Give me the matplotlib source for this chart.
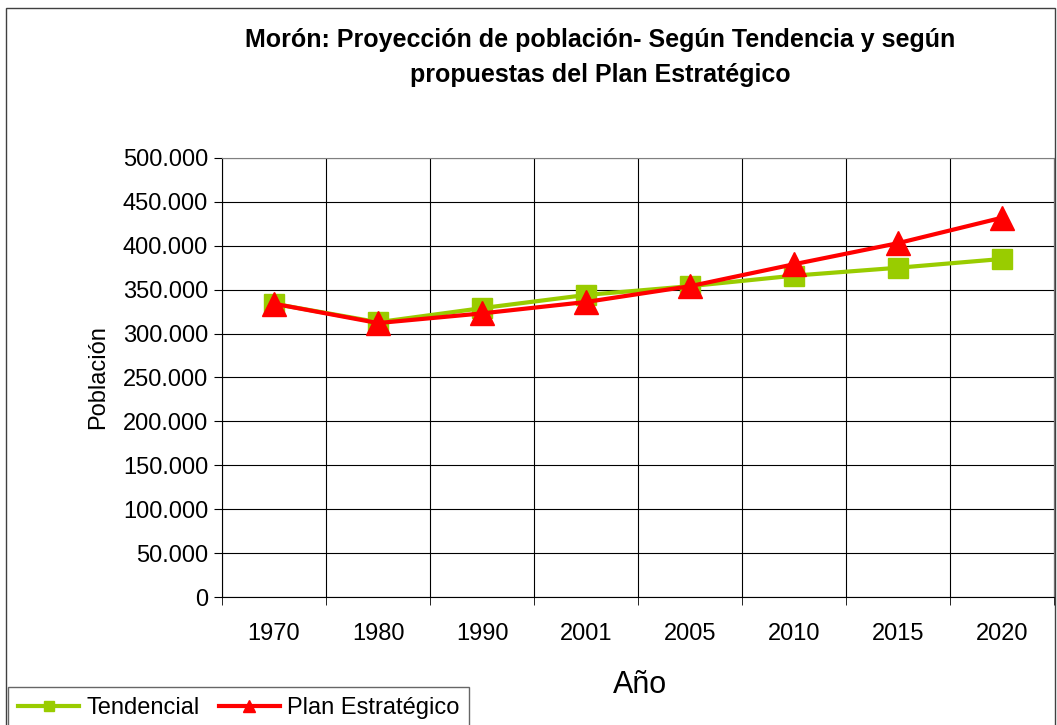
import matplotlib.pyplot as plt
from matplotlib.patches import Rectangle
from matplotlib.ticker import FuncFormatter, MultipleLocator

years = ["1970", "1980", "1990", "2001", "2005", "2010", "2015", "2020"]
tendencial = [334000, 313000, 329000, 344000, 354000, 366000, 375000, 385000]
plan_estrategico = [334000, 312000, 323000, 336000, 354000, 379000, 403000, 432000]

W, H = 1057, 725
plt.rcParams["font.family"] = ["Liberation Sans", "DejaVu Sans"]

fig = plt.figure(figsize=(W / 100, H / 100), dpi=100)
ax = fig.add_axes([222 / W, 1 - 597 / H, (1054 - 222) / W, (597 - 158) / H])

x = list(range(len(years)))
ax.plot(x, tendencial, color="#99cc00", linewidth=3, marker="s", markersize=14,
        label="Tendencial", zorder=3)
ax.plot(x, plan_estrategico, color="#ff0000", linewidth=3, marker="^", markersize=17,
        label="Plan Estratégico", zorder=4)

ax.set_xlim(-0.5, len(years) - 0.5)
ax.set_ylim(0, 500000)
ax.set_xticks(x)
ax.set_xticklabels(years)
ax.set_xticks([i - 0.5 for i in range(len(years) + 1)], minor=True)
ax.tick_params(axis="x", which="major", length=0, pad=19, labelsize=17)
ax.tick_params(axis="x", which="minor", length=6, direction="out")
ax.yaxis.set_major_locator(MultipleLocator(50000))
ax.yaxis.set_major_formatter(FuncFormatter(lambda v, p: f"{v:,.0f}".replace(",", ".")))
ax.tick_params(axis="y", length=6, labelsize=17, pad=4)
ax.grid(True, axis="y", which="major", color="black", linewidth=0.8)
ax.grid(True, axis="x", which="minor", color="black", linewidth=0.8)
ax.set_axisbelow(True)
for s in ax.spines.values():
    s.set_color("#808080")
ax.spines["left"].set_color("black")
ax.spines["bottom"].set_color("black")

ax.set_ylabel("Población", fontsize=17, labelpad=10)
fig.text(640 / W, 1 - 685 / H, "Año", fontsize=22, ha="center", va="center")
fig.text(600 / W, 1 - 40 / H, "Morón: Proyección de población- Según Tendencia y según",
         fontsize=18, fontweight="bold", ha="center", va="center")
fig.text(600 / W, 1 - 75 / H, "propuestas del Plan Estratégico",
         fontsize=18, fontweight="bold", ha="center", va="center")

# outer chart border
fig.patches.append(Rectangle((6 / W, -0.02), (1055 - 6) / W, 1.02 - 8 / H,
                             transform=fig.transFigure, fill=False,
                             edgecolor="#404040", linewidth=1))

leg = fig.legend(loc="lower left", bbox_to_anchor=(8 / W, -4 / H), ncol=2,
                 fontsize=17, frameon=True, fancybox=False, edgecolor="#404040",
                 borderaxespad=0, handlelength=2.6, columnspacing=0.8,
                 handletextpad=0.3, borderpad=0.42, markerscale=0.55)
leg.get_frame().set_linewidth(1)

fig.savefig("out.png", dpi=100)
